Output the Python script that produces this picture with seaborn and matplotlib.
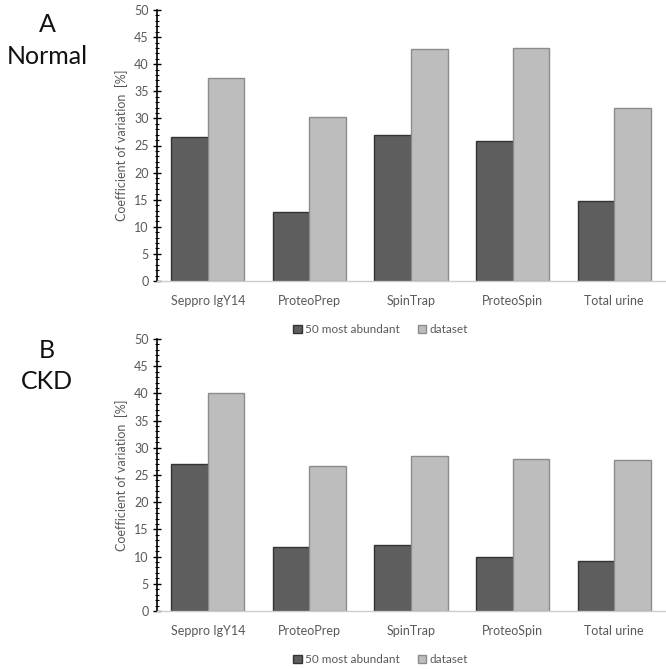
import matplotlib
matplotlib.use("Agg")
import matplotlib.pyplot as plt
import seaborn as sns
import pandas as pd
from matplotlib.ticker import MultipleLocator
from matplotlib.patches import Patch

categories = ["Seppro IgY14", "ProteoPrep", "SpinTrap", "ProteoSpin", "Total urine"]
series_names = ["50 most abundant", "dataset"]
normal_top50 = [26.6, 12.7, 26.9, 25.8, 14.7]
normal_dataset = [37.4, 30.3, 42.8, 43.0, 31.9]
ckd_top50 = [27.1, 11.8, 12.2, 10.0, 9.2]
ckd_dataset = [40.0, 26.6, 28.5, 27.9, 27.7]

sns.set_theme(style="white")
plt.rcParams['font.family'] = ['Lato', 'DejaVu Sans']

TXT = "#595959"
colors = {"50 most abundant": "#5e5e5e", "dataset": "#bdbdbd"}
edges = {"50 most abundant": "#333333", "dataset": "#8c8c8c"}

def make_df(a, b):
    rows = []
    for c, v in zip(categories, a):
        rows.append({"cat": c, "series": series_names[0], "val": v})
    for c, v in zip(categories, b):
        rows.append({"cat": c, "series": series_names[1], "val": v})
    return pd.DataFrame(rows)

fig = plt.figure(figsize=(6.66, 6.69), dpi=100)
ax1 = fig.add_axes([157/666, 1-281/669, 508/666, 271/669])
ax2 = fig.add_axes([157/666, 1-611/669, 508/666, 272/669])

for ax, (a, b) in zip([ax1, ax2], [(normal_top50, normal_dataset), (ckd_top50, ckd_dataset)]):
    df = make_df(a, b)
    sns.barplot(data=df, x="cat", y="val", hue="series", palette=colors,
                width=0.72, ax=ax, legend=False, saturation=1)
    for i, cont in enumerate(ax.containers):
        for p in cont.patches:
            p.set_edgecolor(edges[series_names[i]])
            p.set_linewidth(1.0)
    ax.set_ylim(0, 50)
    ax.set_xlim(-0.5, 4.5)
    ax.yaxis.set_major_locator(MultipleLocator(5))
    ax.yaxis.set_minor_locator(MultipleLocator(1))
    ax.tick_params(axis="y", which="major", direction="inout", length=6, width=1,
                   color="black", labelsize=9, labelcolor=TXT, left=True, pad=3)
    ax.tick_params(axis="y", which="minor", direction="inout", length=3, width=0.8,
                   color="black", left=True)
    ax.tick_params(axis="x", length=0, labelsize=9, labelcolor=TXT, pad=10)
    ax.set_xlabel("")
    ax.set_ylabel("Coefficient of variation  [%]", fontsize=9, color=TXT, labelpad=4)
    for s in ["top", "right"]:
        ax.spines[s].set_visible(False)
    ax.spines["left"].set_color("black")
    ax.spines["left"].set_linewidth(1.2)
    ax.spines["bottom"].set_color("#cccccc")
    ax.spines["bottom"].set_linewidth(1.0)
    handles = [Patch(facecolor=colors[s], edgecolor=edges[s]) for s in series_names]
    ax.legend(handles, series_names, loc="center", bbox_to_anchor=(0.44, -0.18),
              ncol=2, frameon=False, fontsize=8.5, labelcolor=TXT,
              handlelength=0.7, handleheight=0.7, handletextpad=0.3, columnspacing=1.5)

fig.text(47/666, 1-25/669, "A", ha="center", va="center", fontsize=18, color="#111111")
fig.text(47/666, 1-57/669, "Normal", ha="center", va="center", fontsize=18, color="#111111")
fig.text(47/666, 1-350/669, "B", ha="center", va="center", fontsize=18, color="#111111")
fig.text(47/666, 1-382/669, "CKD", ha="center", va="center", fontsize=18, color="#111111")

fig.savefig("out.png", dpi=100)
